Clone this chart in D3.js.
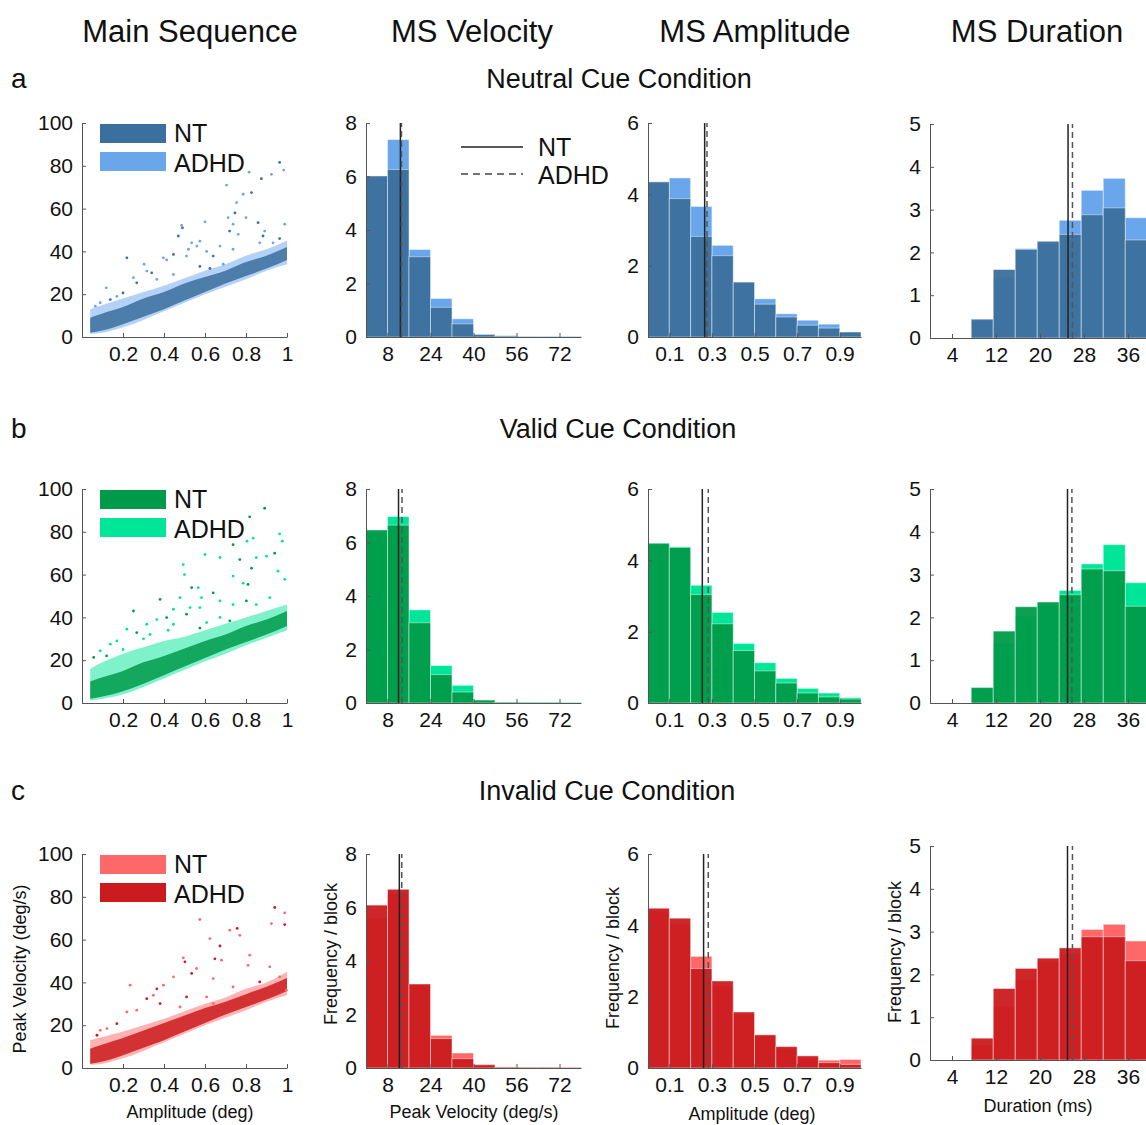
<!DOCTYPE html>
<html>
<head>
<meta charset="utf-8">
<script src="https://cdn.jsdelivr.net/npm/d3@7"></script>
<style>
body { margin: 0; background: #fff; }
text { font-family: "Liberation Sans", Arial, sans-serif; fill: #111; }
.axis path, .axis line { stroke: #555; }
.axis text { font-size: 21px; fill: #111; }
</style>
</head>
<body>
<svg id="fig" width="1146" height="1125"></svg>
<script>

// ---- data ----
var columnTitles = ["Main Sequence", "MS Velocity", "MS Amplitude", "MS Duration"];
var rowLetters = ["a", "b", "c"];
var conditionTitles = ["Neutral Cue Condition", "Valid Cue Condition", "Invalid Cue Condition"];
var groups = ["NT", "ADHD"];

// histogram bin edges
var velEdges = [0, 8, 16, 24, 32, 40, 48, 56, 64, 72, 80];
var ampEdges = [0, 0.1, 0.2, 0.3, 0.4, 0.5, 0.6, 0.7, 0.8, 0.9, 1.0];
var durEdges = [7.5, 11.5, 15.5, 19.5, 23.5, 27.5, 31.5, 35.5, 39.5];

// tick labels
var scatterXTicks = [0.2, 0.4, 0.6, 0.8, 1];
var scatterYTicks = [0, 20, 40, 60, 80, 100];
var velXTicks = [8, 24, 40, 56, 72];
var velYTicks = [0, 2, 4, 6, 8];
var ampXTicks = [0.1, 0.3, 0.5, 0.7, 0.9];
var ampYTicks = [0, 2, 4, 6];
var durXTicks = [4, 12, 20, 28, 36];
var durYTicks = [0, 1, 2, 3, 4, 5];

// frequency / block, neutral cue
var velNT_a   = [6.02, 6.26, 3.0, 1.11, 0.49, 0.09, 0.04, 0.01, 0.01, 0.01];
var velADHD_a = [5.95, 7.38, 3.27, 1.44, 0.68, 0.1, 0.05, 0.02, 0.01, 0.01];
var ampNT_a   = [4.35, 3.88, 2.82, 2.28, 1.54, 0.92, 0.56, 0.33, 0.25, 0.14];
var ampADHD_a = [4.3, 4.46, 3.66, 2.57, 1.5, 1.07, 0.65, 0.47, 0.36, 0.12];
var durNT_a   = [0.44, 1.6, 2.07, 2.26, 2.42, 2.88, 3.04, 2.29];
var durADHD_a = [0.4, 1.42, 2.09, 2.2, 2.75, 3.45, 3.73, 2.81];

// valid cue
var velNT_b   = [6.47, 6.65, 3.0, 1.06, 0.41, 0.11, 0.03, 0.02, 0.02, 0.01];
var velADHD_b = [6.4, 6.97, 3.48, 1.4, 0.66, 0.1, 0.03, 0.02, 0.02, 0.01];
var ampNT_b   = [4.48, 4.36, 3.04, 2.22, 1.47, 0.9, 0.56, 0.28, 0.17, 0.11];
var ampADHD_b = [4.45, 4.38, 3.3, 2.54, 1.67, 1.13, 0.69, 0.41, 0.28, 0.15];
var durNT_b   = [0.36, 1.68, 2.25, 2.36, 2.53, 3.13, 3.09, 2.26];
var durADHD_b = [0.36, 1.4, 2.03, 2.3, 2.63, 3.25, 3.7, 2.81];

// invalid cue
var velNT_c   = [5.6, 6.53, 3.1, 1.22, 0.56, 0.13, 0.04, 0.03, 0.03, 0.02];
var velADHD_c = [6.09, 6.68, 3.14, 1.1, 0.35, 0.12, 0.03, 0.02, 0.02, 0.01];
var ampNT_c   = [4.4, 4.03, 3.13, 2.3, 1.5, 0.9, 0.55, 0.3, 0.22, 0.24];
var ampADHD_c = [4.48, 4.2, 2.79, 2.44, 1.57, 0.93, 0.6, 0.34, 0.15, 0.1];
var durNT_c   = [0.35, 1.26, 1.88, 2.3, 2.49, 3.05, 3.17, 2.78];
var durADHD_c = [0.51, 1.67, 2.14, 2.38, 2.62, 2.88, 2.88, 2.32];

// group means [NT, ADHD] per condition
var meanVel = [[12.8, 13.2], [12.1, 13.4], [12.4, 13.3]];
var meanAmp = [[0.266, 0.277], [0.255, 0.283], [0.261, 0.283]];
var meanDur = [[25.1, 25.9], [25.0, 25.8], [25.0, 25.9]];

// main sequence: dense band envelope (amplitude vs peak velocity)
var bandAmp = [0.04, 0.1, 0.2, 0.3, 0.4, 0.5, 0.6, 0.7, 0.8, 0.9, 1.0];
var bandOuterLo_a = [1.5, 2, 4.5, 8, 12, 16, 20, 23.5, 27, 31, 34];
var bandOuterHi_a = [13, 15, 18, 21, 24, 27.5, 31, 34, 38, 41, 45];
var bandInnerLo_a = [2, 3, 6, 9.5, 13, 17, 21, 25, 28.5, 32, 36];
var bandInnerHi_a = [9, 11, 14, 18, 21, 25, 28, 31, 35, 38, 42];
var bandOuterLo_b = [1, 2, 4, 7.5, 11.5, 15.5, 19.5, 23, 27, 30.5, 34];
var bandOuterHi_b = [16, 19, 23, 26, 29, 31, 34, 37, 40, 43, 46];
var bandInnerLo_b = [2, 3, 5.5, 9, 13, 17, 21, 25, 28.5, 32, 36];
var bandInnerHi_b = [10, 12, 15, 19, 22, 25.5, 29, 32, 36, 39, 43];
var bandOuterLo_c = [1.5, 2, 4.5, 8, 12, 16, 20, 23.5, 27, 31, 34];
var bandOuterHi_c = [13, 14.5, 17, 20, 23, 26.5, 30, 33, 37, 40, 45];
var bandInnerLo_c = [2, 3, 6, 9.5, 13, 17, 21, 25, 28.5, 32, 36];
var bandInnerHi_c = [9, 11, 14, 17.5, 21, 24.5, 28, 31, 34.5, 38, 42];

// main sequence: scattered saccades above the band [amplitude, peak velocity]
var outliers_a = [[0.964,81.6],[0.984,78],[0.924,76],[0.875,74],[0.815,77],[0.705,71],[0.827,67.5],
  [0.786,66.7],[0.754,62.8],[0.746,58],[0.713,55.8],[0.8,55.8],[0.859,53.4],[0.989,52.7],[0.486,52.2],
  [0.49,51],[0.6,53.8],[0.737,52.7],[0.72,49.5],[0.762,48],[0.891,49.5],[0.883,47.2],[0.535,44],
  [0.575,44.8],[0.47,47.2],[0.519,41],[0.56,42.5],[0.446,38.6],[0.397,37],[0.413,36],[0.219,37],
  [0.303,34],[0.316,30.8],[0.34,30],[0.118,23],[0.251,27.7],[0.267,25.3],[0.51,37.8],[0.608,40],
  [0.64,37.8],[0.867,44],[0.932,44],[0.964,46],[0.737,41],[0.673,42.5],[0.624,32],[0.689,34],
  [0.17,19],[0.138,17.5],[0.089,16],[0.065,14.4],[0.2,20.6],[0.365,26.9],[0.446,29.2],[0.575,33]];
var outliers_b = [[0.891,91],[0.964,79],[0.977,75.6],[0.818,87],[0.835,77],[0.805,75.6],[0.737,74],
  [0.6,69.4],[0.673,68],[0.77,67],[0.85,67.9],[0.9,68.6],[0.94,70],[0.956,61.6],[0.989,57.8],
  [0.827,63],[0.737,59.3],[0.786,56],[0.81,55.4],[0.494,64.7],[0.5,60],[0.535,53.9],[0.567,53.9],
  [0.583,49.2],[0.64,51.5],[0.673,47.7],[0.737,46],[0.802,47.7],[0.85,46],[0.916,49.2],[0.381,48.4],
  [0.478,49.2],[0.527,44.6],[0.51,41.5],[0.575,44.6],[0.446,43.8],[0.413,39.9],[0.365,39],[0.316,36.8],
  [0.267,32.9],[0.219,34.5],[0.17,29],[0.251,43],[0.138,27.5],[0.089,24.4],[0.057,21.3],[0.608,37.6],
  [0.673,40],[0.721,38.4],[0.446,36.8],[0.332,32],[0.575,35],[0.2,25],[0.3,30],[0.12,22],[0.42,34]];
var outliers_c = [[0.94,75],[0.989,72.5],[0.924,67.5],[0.989,67],[0.575,69.4],[0.721,64.4],[0.757,65.2],
  [0.77,62],[0.624,60.5],[0.673,57],[0.818,52.7],[0.81,48],[0.648,51],[0.681,50.4],[0.494,51.5],
  [0.502,49.6],[0.559,46.5],[0.64,41.8],[0.535,44.2],[0.446,42.6],[0.397,38.7],[0.365,37],[0.235,38.7],
  [0.348,34],[0.316,32.4],[0.267,27],[0.219,26.2],[0.17,20.7],[0.122,18.4],[0.089,17.6],[0.073,15.3],
  [0.916,47.3],[0.964,42.6],[0.867,40.2],[0.737,37.9],[0.608,33.2],[0.51,33.2],[0.64,30.1],[0.478,28.5],
  [0.381,30.1],[0.997,36.3]];

// ---- layout ----
var rowTop = [123, 489, 854];
var rowBottom = [337, 703, 1068];
var durShift = [1, 0, -8];
var colors = [
  {dark: "#3b6f9d", light: "#6aa6ec"},
  {dark: "#009b4a", light: "#00e699"},
  {dark: "#cb1b1f", light: "#ff6868"}
];
// which group is painted with the dark colour (on top)
var darkGroup = ["NT", "NT", "ADHD"];

var svg = d3.select("#fig");

// column and row headings
var colCenters = [190, 472, 755, 1037];
svg.selectAll(".coltitle")
    .data(columnTitles)
  .enter().append("text")
    .attr("class", "coltitle")
    .attr("x", function(d, i) { return colCenters[i]; })
    .attr("y", 42)
    .attr("text-anchor", "middle")
    .style("font-size", "31px")
    .text(function(d) { return d; });

var condY = [88, 438, 800];
var condX = [619, 618, 607];
rowLetters.forEach(function(l, r) {
  svg.append("text").attr("x", 11).attr("y", condY[r])
      .style("font-size", "28px").text(l);
  svg.append("text").attr("x", condX[r]).attr("y", condY[r])
      .attr("text-anchor", "middle").style("font-size", "27px")
      .text(conditionTitles[r]);
});

function styleAxis(g) {
  g.attr("class", "axis");
  g.selectAll("path").attr("stroke", "#555").attr("stroke-width", 1);
  g.selectAll("line").attr("stroke", "#555");
}

function addAxes(x, y, xt, yt, bottom, left, xfmt, yfmt) {
  var gx = svg.append("g").attr("transform", "translate(0," + bottom + ")")
      .call(d3.axisBottom(x).tickValues(xt).tickSize(-4).tickSizeOuter(0).tickPadding(9).tickFormat(xfmt));
  styleAxis(gx);
  var gy = svg.append("g").attr("transform", "translate(" + left + ",0)")
      .call(d3.axisLeft(y).tickValues(yt).tickSize(-4).tickSizeOuter(0).tickPadding(9).tickFormat(yfmt));
  styleAxis(gy);
}

// ---- main sequence scatter ----
function drawScatter(r, outerLo, outerHi, innerLo, innerHi, pts) {
  var x = d3.scaleLinear().domain([0, 1]).range([82, 287]);
  var y = d3.scaleLinear().domain([0, 100]).range([rowBottom[r], rowBottom[r] - 214]);
  var c = colors[r];

  var outer = d3.area()
      .x(function(d, i) { return x(bandAmp[i]); })
      .y0(function(d, i) { return y(outerLo[i]); })
      .y1(function(d, i) { return y(outerHi[i]); })
      .curve(d3.curveMonotoneX);
  var inner = d3.area()
      .x(function(d, i) { return x(bandAmp[i]); })
      .y0(function(d, i) { return y(innerLo[i]); })
      .y1(function(d, i) { return y(innerHi[i]); })
      .curve(d3.curveMonotoneX);

  svg.append("path").datum(bandAmp).attr("d", outer)
      .attr("fill", c.light).attr("fill-opacity", 0.5);
  svg.append("path").datum(bandAmp).attr("d", inner)
      .attr("fill", c.dark).attr("fill-opacity", 0.85);

  svg.append("g").selectAll("circle")
      .data(pts)
    .enter().append("circle")
      .attr("cx", function(d) { return x(d[0]); })
      .attr("cy", function(d) { return y(d[1]); })
      .attr("r", 1.4)
      .attr("fill", function(d, i) { return i % 3 === 0 ? c.dark : c.light; });

  addAxes(x, y, scatterXTicks, scatterYTicks, rowBottom[r], 82, d3.format(""), d3.format(""));

  // legend
  var top = rowTop[r];
  var legendColors = darkGroup[r] === "NT" ? [c.dark, c.light] : [c.light, c.dark];
  groups.forEach(function(gname, k) {
    svg.append("rect").attr("x", 100).attr("y", top + 1 + k * 28)
        .attr("width", 66).attr("height", 19).attr("fill", legendColors[k]);
    svg.append("text").attr("x", 174).attr("y", top + 19 + k * 30)
        .style("font-size", "25px").text(gname);
  });
}

// ---- histograms ----
function drawHist(r, edges, xDomain, xRange, yMax, top, bottom, nt, adhd, means, xt, yt, xfmt) {
  var x = d3.scaleLinear().domain(xDomain).range(xRange);
  var y = d3.scaleLinear().domain([0, yMax]).range([bottom, top]);
  var c = colors[r];
  var darkVals = darkGroup[r] === "NT" ? nt : adhd;
  var lightVals = darkGroup[r] === "NT" ? adhd : nt;

  function bars(vals, fill, op) {
    svg.append("g").selectAll("rect")
        .data(vals)
      .enter().append("rect")
        .attr("x", function(d, i) { return x(edges[i]); })
        .attr("width", function(d, i) { return x(edges[i + 1]) - x(edges[i]); })
        .attr("y", function(d) { return y(d); })
        .attr("height", function(d) { return y(0) - y(d); })
        .attr("fill", fill)
        .attr("fill-opacity", op)
        .attr("stroke", "rgba(255,255,255,0.45)")
        .attr("stroke-width", 1);
  }
  bars(lightVals, c.light, 1);
  bars(darkVals, c.dark, 0.95);

  // group means: NT solid, ADHD dashed
  svg.append("line").attr("x1", x(means[0])).attr("x2", x(means[0]))
      .attr("y1", y(0)).attr("y2", y(yMax))
      .attr("stroke", "#222").attr("stroke-width", 1.5);
  svg.append("line").attr("x1", x(means[1])).attr("x2", x(means[1]))
      .attr("y1", y(0)).attr("y2", y(yMax))
      .attr("stroke", "#555").attr("stroke-width", 1.5)
      .attr("stroke-dasharray", "6,4");

  addAxes(x, y, xt, yt, bottom, xRange[0], xfmt, d3.format(""));
}

var velData = [[velNT_a, velADHD_a], [velNT_b, velADHD_b], [velNT_c, velADHD_c]];
var ampData = [[ampNT_a, ampADHD_a], [ampNT_b, ampADHD_b], [ampNT_c, ampADHD_c]];
var durData = [[durNT_a, durADHD_a], [durNT_b, durADHD_b], [durNT_c, durADHD_c]];
var bands = [
  [bandOuterLo_a, bandOuterHi_a, bandInnerLo_a, bandInnerHi_a, outliers_a],
  [bandOuterLo_b, bandOuterHi_b, bandInnerLo_b, bandInnerHi_b, outliers_b],
  [bandOuterLo_c, bandOuterHi_c, bandInnerLo_c, bandInnerHi_c, outliers_c]
];

for (var r = 0; r < 3; r++) {
  drawScatter(r, bands[r][0], bands[r][1], bands[r][2], bands[r][3], bands[r][4]);
  drawHist(r, velEdges, [0, 80], [366, 581], 8, rowTop[r], rowBottom[r],
           velData[r][0], velData[r][1], meanVel[r], velXTicks, velYTicks, d3.format(""));
  drawHist(r, ampEdges, [0, 1], [648, 861], 6, rowTop[r], rowBottom[r],
           ampData[r][0], ampData[r][1], meanAmp[r], ampXTicks, ampYTicks, d3.format(".1f"));
  drawHist(r, durEdges, [0, 40], [930, 1150], 5, rowTop[r] + durShift[r], rowBottom[r] + durShift[r],
           durData[r][0], durData[r][1], meanDur[r], durXTicks, durYTicks, d3.format(""));
}

// line legend for the mean markers (top velocity panel)
var lineLegend = svg.append("g");
groups.forEach(function(gname, k) {
  lineLegend.append("line").attr("x1", 461).attr("x2", 523)
      .attr("y1", 147 + k * 27).attr("y2", 147 + k * 27)
      .attr("stroke", k === 0 ? "#222" : "#444").attr("stroke-width", 1.5)
      .attr("stroke-dasharray", k === 0 ? null : "7,5");
  lineLegend.append("text").attr("x", 538).attr("y", 156 + k * 28)
      .style("font-size", "25px").text(gname);
});

// axis titles (bottom row only)
var xTitles = [["Amplitude (deg)", 190, 1118], ["Peak Velocity (deg/s)", 474, 1118],
               ["Amplitude (deg)", 752, 1120], ["Duration (ms)", 1038, 1112]];
xTitles.forEach(function(t) {
  svg.append("text").attr("x", t[1]).attr("y", t[2]).attr("text-anchor", "middle")
      .style("font-size", "18px").text(t[0]);
});
var yTitles = [["Peak Velocity (deg/s)", 26, 969], ["Frequency / block", 337, 954],
               ["Frequency / block", 619, 958], ["Frequency / block", 901, 952]];
yTitles.forEach(function(t) {
  svg.append("text").attr("transform", "translate(" + t[1] + "," + t[2] + ") rotate(-90)")
      .attr("text-anchor", "middle").style("font-size", "18px").text(t[0]);
});

</script>
</body>
</html>
